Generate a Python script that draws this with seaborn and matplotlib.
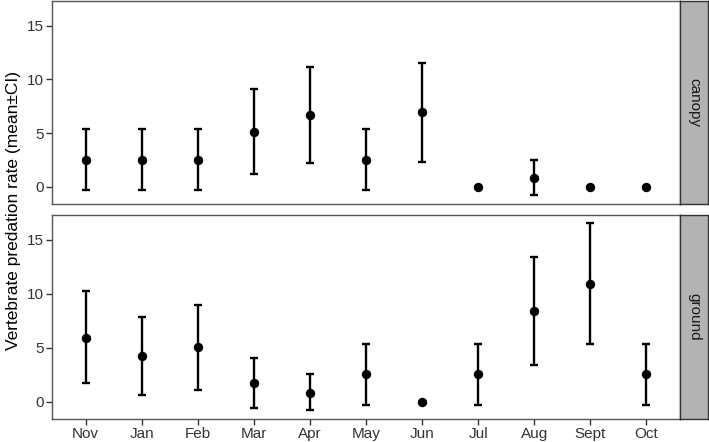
import pandas as pd
import matplotlib.pyplot as plt
import seaborn as sns

months = ["Nov", "Jan", "Feb", "Mar", "Apr", "May", "Jun", "Jul", "Aug", "Sept", "Oct"]

canopy_mean = [2.52, 2.52, 2.52, 5.09, 6.68, 2.52, 6.93, 0.0, 0.84, 0.0, 0.0]
canopy_lo = [-0.31, -0.31, -0.31, 1.18, 2.20, -0.31, 2.33, 0.0, -0.78, 0.0, 0.0]
canopy_hi = [5.34, 5.34, 5.38, 9.07, 11.18, 5.34, 11.49, 0.0, 2.48, 0.0, 0.0]

ground_mean = [5.93, 4.19, 5.03, 1.71, 0.84, 2.52, 0.0, 2.52, 8.42, 10.96, 2.52]
ground_lo = [1.68, 0.59, 1.09, -0.62, -0.81, -0.28, 0.0, -0.28, 3.42, 5.31, -0.28]
ground_hi = [10.22, 7.83, 9.00, 4.07, 2.52, 5.34, 0.0, 5.34, 13.42, 16.55, 5.38]

habitats = ["canopy", "ground"]

df = pd.concat([
    pd.DataFrame({"month": months, "habitat": "canopy", "mean": canopy_mean,
                  "lo": canopy_lo, "hi": canopy_hi}),
    pd.DataFrame({"month": months, "habitat": "ground", "mean": ground_mean,
                  "lo": ground_lo, "hi": ground_hi}),
])

sns.set_style("white")
plt.rcParams["font.family"] = ["Liberation Sans", "DejaVu Sans"]

fig = plt.figure(figsize=(7.09, 4.42), dpi=100)
left, right = 52 / 709, 680 / 709
boxes = [(1, 204), (215, 419)]
strip_w = 28 / 709

for i, (hab, (top_px, bot_px)) in enumerate(zip(habitats, boxes)):
    b = 1 - bot_px / 442
    h = (bot_px - top_px) / 442
    ax = fig.add_axes([left, b, right - left, h])
    sub = df[df["habitat"] == hab]
    ax.errorbar(sub["month"], sub["mean"],
                yerr=[sub["mean"] - sub["lo"], sub["hi"] - sub["mean"]],
                fmt="none", ecolor="black", elinewidth=1.7, capsize=2.6, capthick=1.7, zorder=2)
    sns.scatterplot(data=sub, x="month", y="mean", color="black", s=46, edgecolor="black",
                    linewidth=0, ax=ax, zorder=3)
    ax.set_xlim(-0.6, 10.6)
    ax.set_ylim(-1.62, 17.32)
    ax.set_yticks([0, 5, 10, 15])
    ax.set_xlabel("")
    ax.set_ylabel("")
    for sp in ax.spines.values():
        sp.set_color("#555555")
        sp.set_linewidth(1.0)
    ax.tick_params(axis="both", which="both", direction="out", length=4, width=1,
                   color="#333333", labelcolor="#333333", labelsize=11, pad=2,
                   left=True, bottom=(i == 1))
    if i == 0:
        ax.set_xticklabels([])
    # facet strip
    sax = fig.add_axes([right, b, strip_w, h])
    sax.set_facecolor("#B3B3B3")
    sax.set_xticks([])
    sax.set_yticks([])
    for sp in sax.spines.values():
        sp.set_color("#333333")
        sp.set_linewidth(1.0)
    sax.text(0.5, 0.5, hab, rotation=-90, ha="center", va="center",
             fontsize=11, color="#1A1A1A", transform=sax.transAxes)

fig.text(0.008, (1 - 419 / 442 + 1 - 1 / 442) / 2, "Vertebrate predation rate (mean±CI)",
         rotation=90, ha="left", va="center", fontsize=12.5, color="black")

fig.savefig("out.png", dpi=100)
